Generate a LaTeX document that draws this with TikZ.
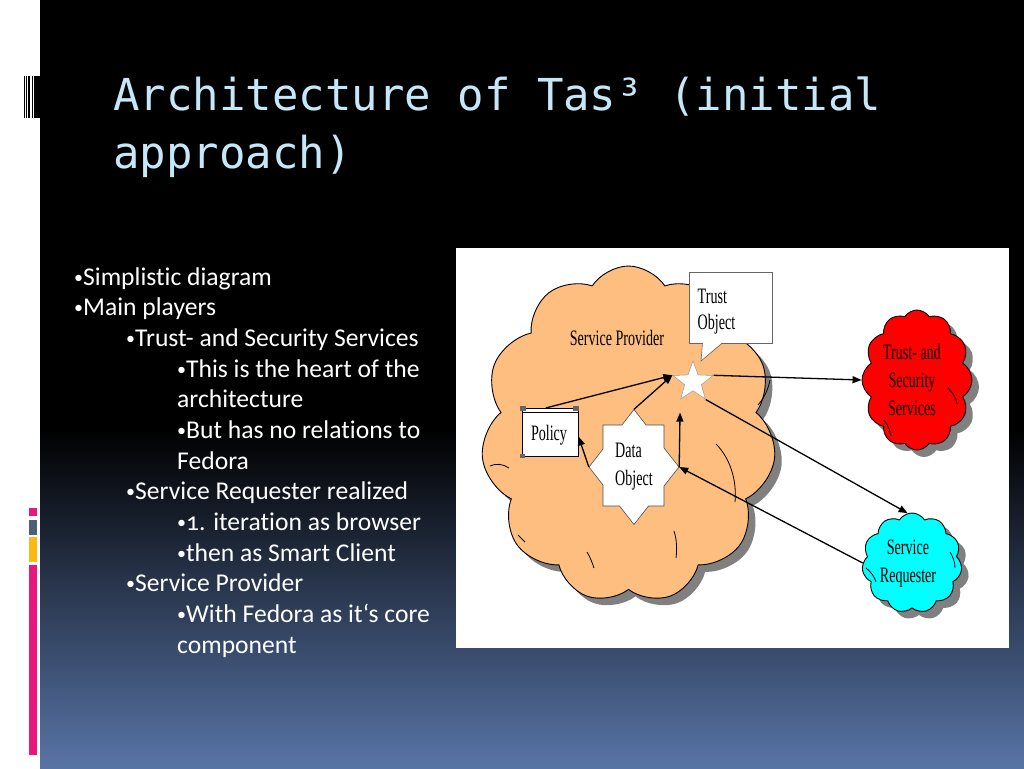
\documentclass[tikz,border=0pt]{standalone}
\usepackage{fontspec}
\usetikzlibrary{shapes.symbols,shapes.geometric,shadows,arrows.meta}
\setmainfont{Carlito}[Ligatures={NoCommon,NoRequired,NoContextual}]
\newfontfamily\titlefont{DejaVu Sans Mono}
\newfontfamily\diafont[FakeStretch=0.64]{Liberation Serif}
\newcommand{\bdot}{\raisebox{1.8pt}{\fontsize{18}{30}\selectfont •}}
\definecolor{titleblue}{HTML}{C6E7F7}
\definecolor{slideblue}{HTML}{5874A6}
\definecolor{spcloud}{HTML}{FDBE80}
\definecolor{srcloud}{HTML}{00FFFF}
\definecolor{tscloud}{HTML}{FF0000}
\definecolor{barpink}{HTML}{E8177D}
\definecolor{bargray}{HTML}{4F5F78}
\definecolor{baryellow}{HTML}{FDB913}
\tikzset{
  bul/.style={anchor=base west, inner sep=0pt, text=white, font=\fontsize{25.6}{30}\selectfont},
  diatext/.style={inner sep=0pt, font=\diafont\fontsize{22}{28}\selectfont, text=black},
  cloudbox/.style={cloud, cloud puffs=11, cloud puff arc=115, cloud ignores aspect, draw=black, line width=0.9pt, inner sep=0pt,
     drop shadow={shadow xshift=7pt, shadow yshift=-7pt, fill=black!50, opacity=1}},
  conn/.style={line width=1.3pt, -{Triangle[length=9pt,width=7pt]}},
  innerarc/.style={line width=0.8pt, black}
}
\begin{document}
\begin{tikzpicture}[x=1pt,y=-1pt]
\useasboundingbox (0,0) rectangle (1024,768);
% background
\fill[white] (0,0) rectangle (1024,768);
\fill[black] (40,0) rectangle (1024,430);
\shade[top color=black, bottom color=slideblue] (40,429.5) rectangle (1024,768);
% barcode marks
\fill[black] (24.4,76) rectangle (25.3,118);
\fill[black] (26.2,76) rectangle (27.0,118);
\fill[black] (28.3,76) rectangle (30.0,118);
\fill[black] (31.7,76) rectangle (33.3,118);
\fill[black] (34.3,76) rectangle (40.5,118);
% colour bars
\fill[barpink] (29,508) rectangle (36.5,516);
\fill[bargray] (29,519.5) rectangle (36.5,534.5);
\fill[baryellow] (29,537) rectangle (36.5,562);
\fill[barpink] (29,565) rectangle (36.5,755);
% title
\node[anchor=base west, inner sep=0pt, text=titleblue, font=\titlefont\fontsize{44}{58}\selectfont] (t1) at (113,110) {Architecture of Tas³ (initial};
\node[anchor=base west, inner sep=0pt, text=titleblue, font=\titlefont\fontsize{44}{58}\selectfont] (t2) at (113,168) {approach)};
% bullets
\node[bul] (b1) at (74,285) {\bdot Simplistic diagram};
\node[bul] (b2) at (74,315.7) {\bdot Main players};
\node[bul] (b3) at (126,346.3) {\bdot Trust- and Security Services};
\node[bul] (b4) at (177,377) {\bdot This is the heart of the};
\node[bul] (b5) at (177,407.7) {architecture};
\node[bul] (b6) at (177,438.3) {\bdot But has no relations to};
\node[bul] (b7) at (177,469) {Fedora};
\node[bul] (b8) at (126,499.7) {\bdot Service Requester realized};
\node[bul] (b9) at (177,530.3) {\bdot{\addfontfeature{Numbers=OldStyle}1}. iteration as browser};
\node[bul] (b10) at (177,561) {\bdot then as Smart Client};
\node[bul] (b11) at (126,591.7) {\bdot Service Provider};
\node[bul] (b12) at (177,622.3) {\bdot With Fedora as it‘s core};
\node[bul] (b13) at (177,653) {component};
% diagram panel
\fill[white] (456,248) rectangle (1009,648);
% service provider cloud
\node[cloudbox, fill=spcloud, minimum width=295pt, minimum height=337pt] (sp) at (628.5,434.5) {};
\draw[innerarc] (716,444) .. controls (730,458) and (737,480) .. (735,502);
\draw[innerarc] (758,405) .. controls (764,398) and (768,390) .. (770,380);
\draw[innerarc] (674,531) .. controls (677,540) and (677,550) .. (676,558);
\draw[innerarc] (587,552) .. controls (590,557) and (592,562) .. (594,568);
\draw[innerarc] (490,466) .. controls (496,463) and (503,464) .. (509,468);
\draw[innerarc] (518,535) .. controls (521,538) and (523,540) .. (525,542);
\node[diatext] (spl) at (617,338) {Service Provider};
% trust object callout
\node[draw=black!60, fill=white, minimum width=83pt, minimum height=71pt, inner sep=0pt] (to) at (730.5,307.5) {};
\fill[white] (702.5,342) -- (701,361) -- (722.5,342) -- cycle;
\draw[black!60, line width=0.6pt] (702.5,343) -- (701,361) -- (722.5,343);
\node[diatext, anchor=west] (tol1) at (697.5,296) {Trust};
\node[diatext, anchor=west] (tol2) at (697.5,324) {Object};
% policy scroll
\node[draw=black, line width=1pt, fill=white, minimum width=56pt, minimum height=48pt, inner sep=0pt] (pol) at (550,432.5) {};
\draw[line width=1pt] (522,412.5) -- (578,412.5);
\fill[black!60] (520,406) rectangle (526,411);
\fill[black!60] (573,406) rectangle (579,411);
\fill[black!60] (520,453.5) rectangle (525,458);
\node[diatext] (poll) at (549,435) {Policy};
% data object (8-point star)
\filldraw[fill=white, draw=black!70, line width=0.6pt]
  (634,409.5) -- (646.1,425) -- (664,425) -- (664,448) -- (679,467) -- (664,486) -- (664,506)
  -- (648.5,506) -- (634,524.5) -- (619.5,506) -- (603,506) -- (603,485) -- (589,467)
  -- (603,449) -- (603,425) -- (621.9,425) -- cycle;
\node[diatext, align=left, minimum width=90pt, minimum height=115pt] (dobj) at (634,467) {Data\\Object};
% small white star
\node[star, star points=5, star point ratio=2.4, minimum size=42pt, inner sep=0pt, fill=white, draw=black!40, line width=0.5pt] (st) at (693,382) {};
% trust and security services cloud
\node[cloudbox, fill=tscloud, minimum width=110pt, minimum height=140pt, cloud puffs=12] (ts) at (917,380) {};
\draw[innerarc] (948,388) .. controls (953,393) and (956,398) .. (957,404);
\draw[innerarc] (884,420) .. controls (888,426) and (890,430) .. (891,436);
\node[diatext, align=center] (tsl) at (912,380) {Trust- and\\Security\\Services};
% service requester cloud
\node[cloudbox, fill=srcloud, minimum width=100pt, minimum height=100pt, cloud puffs=11] (sr) at (912,563) {};
\draw[innerarc] (866,568) .. controls (871,572) and (874,576) .. (876,582);
\draw[innerarc] (950,552) .. controls (953,557) and (955,562) .. (955,568);
\node[diatext, align=center] (srl) at (908,564) {Service\\Requester};
% connectors
\draw[conn] (pol.100) -- (st.outer point 2);
\draw[conn] (dobj.north) -- (st.outer point 2);
\draw[conn, shorten >=13pt] (dobj.east) -- (st.outer point 3);
\draw[conn] (dobj.west) -- (pol.-8);
\draw[conn] (st.outer point 5) -- (ts.west);
\draw[conn] (st.outer point 4) -- (sr.95);
\draw[conn] (sr.west) -- (dobj.east);
\end{tikzpicture}
\end{document}
